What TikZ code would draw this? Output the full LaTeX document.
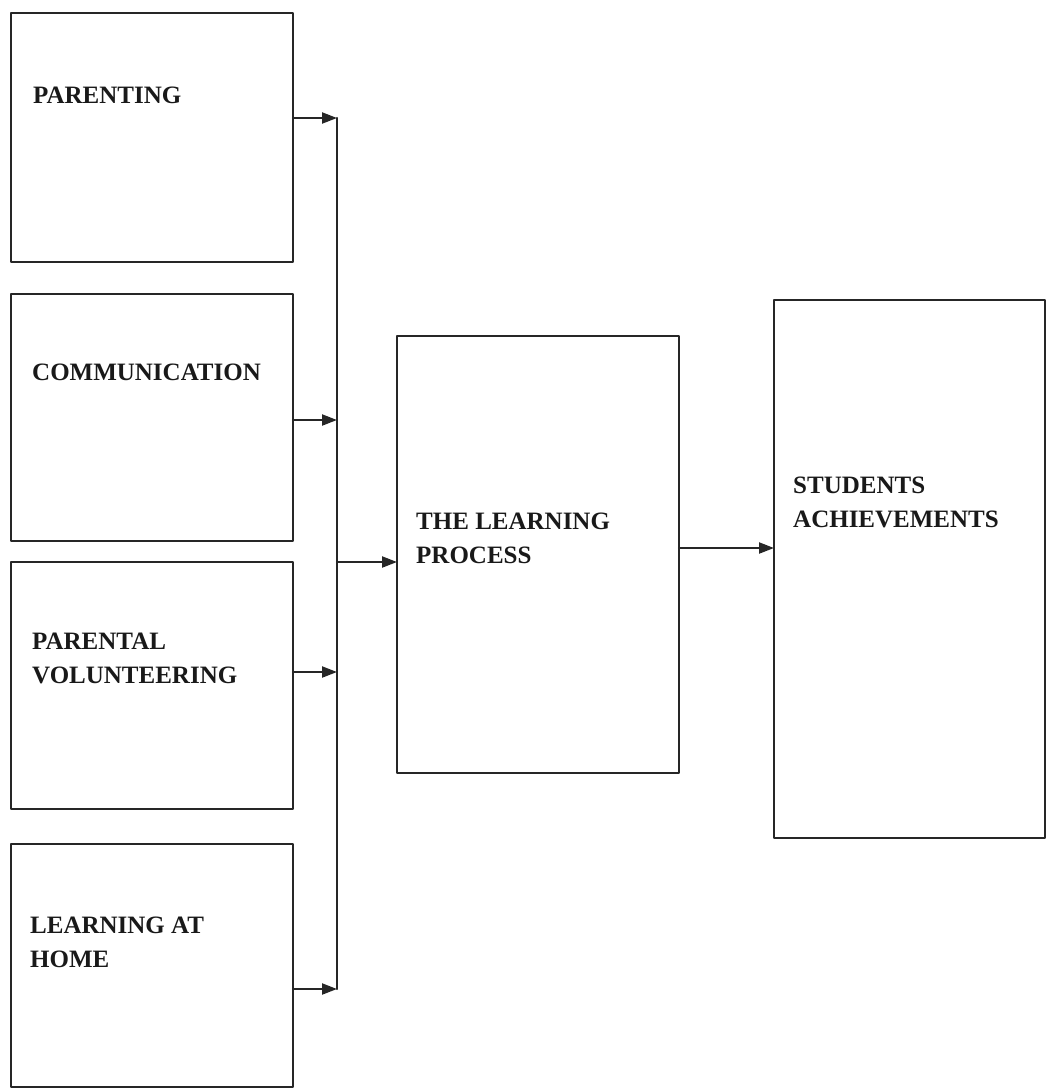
\documentclass[tikz,border=0pt]{standalone}
\usepackage{fontspec}
\setmainfont{Liberation Serif}
\usepackage{tikz}
\usetikzlibrary{arrows.meta,calc,positioning}

\begin{document}
\begin{tikzpicture}[line cap=round,line join=round,x=1pt,y=-1pt,
    blk/.style={draw=black!85,line width=1.4pt,inner sep=0pt,outer sep=0pt,minimum width=282pt},
    lbl/.style={anchor=base west,align=left,inner sep=0pt,text=black!90,font=\fontsize{25}{34}\selectfont\bfseries},
    arr/.style={draw=black!85,line width=2.2pt,-{Triangle[length=15pt,width=11pt]}}]
                \useasboundingbox (0,0) rectangle (1047,1088);
                % boxes on the left
                \node[blk,minimum height=249pt] (par) at (152,137.5) {};
                \node[blk,minimum height=247pt] (com) at (152,417.5) {};
                \node[blk,minimum height=247pt] (vol) at (152,685.5) {};
                \node[blk,minimum height=243pt] (home) at (152,965.5) {};
                % middle and right boxes
                \node[blk,minimum height=437pt] (proc) at (538,554.5) {};
                \node[blk,minimum width=271pt,minimum height=538pt] (stud) at (909.5,569) {};
                % texts (base = last line)
                \node[lbl] (tpar) at (33,103) {PARENTING};
                \node[lbl] (tcom) at (32,380) {COMMUNICATION};
                \node[lbl] (tvol) at (32,683) {PARENTAL\\VOLUNTEERING};
                \node[lbl] (thome) at (30,967) {LEARNING AT\\HOME};
                \node[lbl] (tproc) at (416,563) {THE LEARNING\\PROCESS};
                \node[lbl] (tstud) at (793,527) {STUDENTS\\ACHIEVEMENTS};
                % bus
                \coordinate (b1) at (337,118);
                \coordinate (b2) at (337,420);
                \coordinate (b3) at (337,672);
                \coordinate (b4) at (337,989);
                \coordinate (bm) at (337,562);
                \draw [draw=black!85,line width=2.2pt] (b1)-- (b4);
                \draw [arr] (par.east |- b1)-- (b1);
                \draw [arr] (com.east |- b2)-- (b2);
                \draw [arr] (vol.east |- b3)-- (b3);
                \draw [arr] (home.east |- b4)-- (b4);
                \draw [arr] (bm)-- (proc.west |- bm);
                \draw [arr] (proc.east |- 0,548)-- (stud.west |- 0,548);
            \end{tikzpicture}
\end{document}
